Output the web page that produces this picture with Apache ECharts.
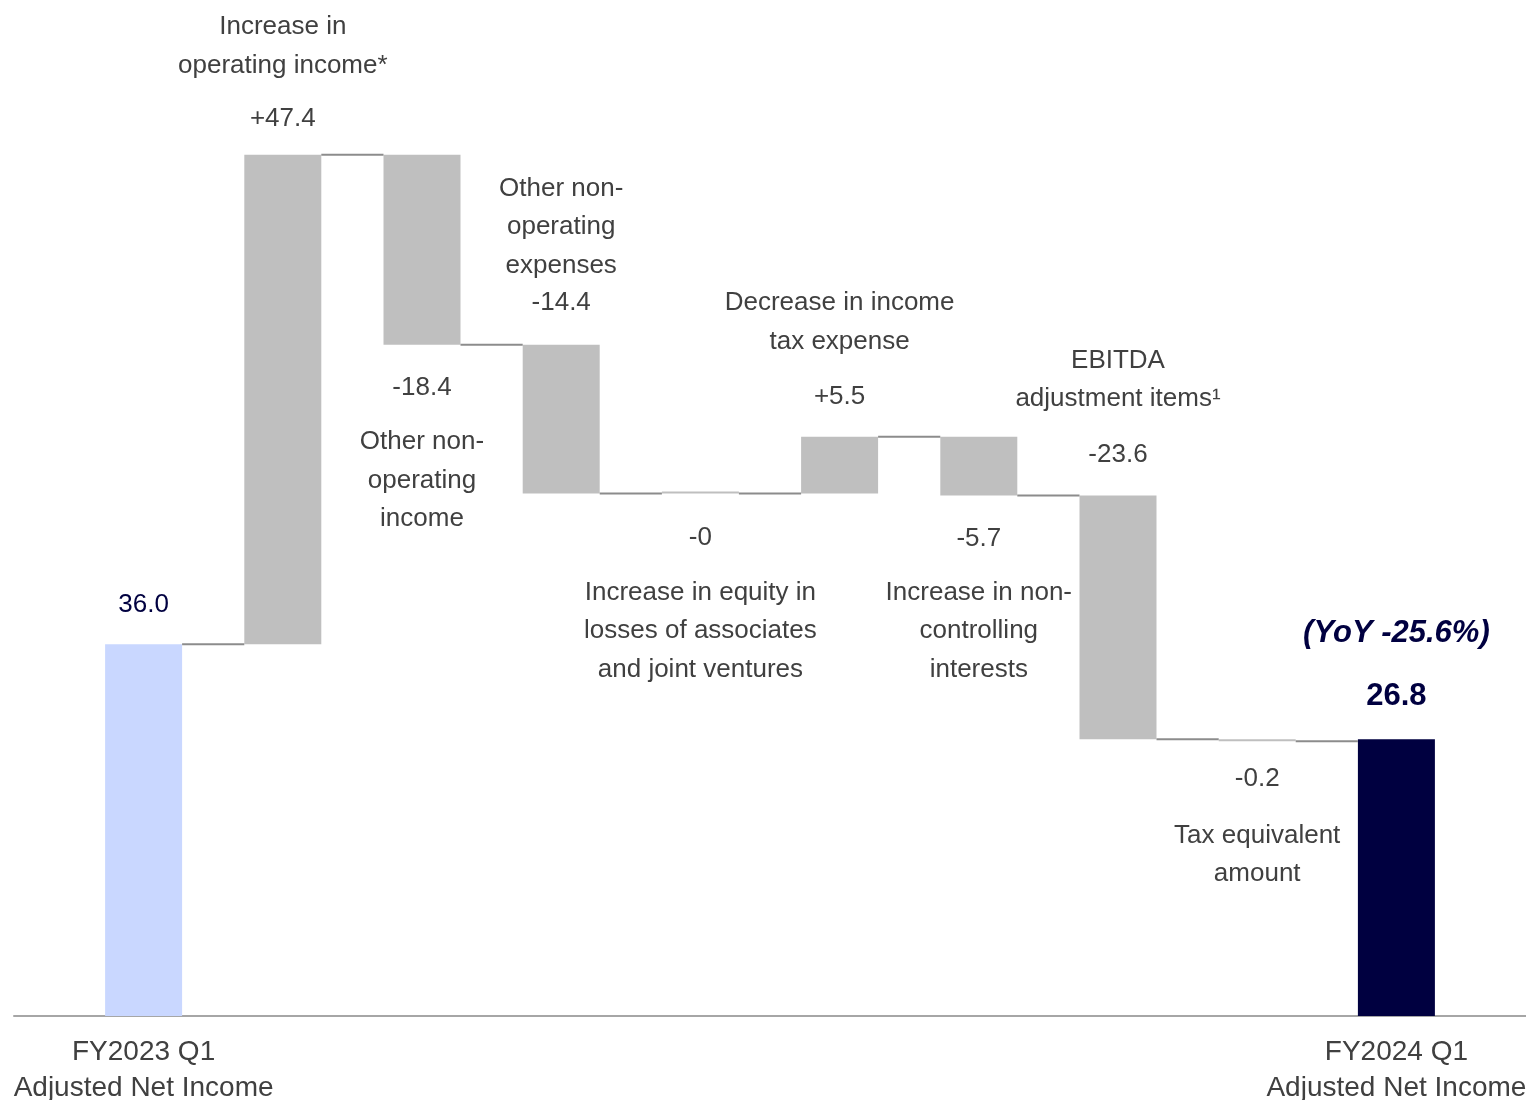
<!DOCTYPE html>
<html>
<head>
<meta charset="utf-8">
<title>Adjusted Net Income bridge</title>
<script src="https://cdn.jsdelivr.net/npm/echarts@6/dist/echarts.min.js"></script>
<style>
  html, body { margin: 0; padding: 0; background: #ffffff; }
  #chart { width: 1526px; height: 1100px; }
</style>
</head>
<body>
<div id="chart"></div>
<script>
// ---- data ----
const categories = [
  'FY2023 Q1\nAdjusted Net Income',
  'Increase in\noperating income*',
  'Other non-\noperating\nincome',
  'Other non-\noperating\nexpenses',
  'Increase in equity in\nlosses of associates\nand joint ventures',
  'Decrease in income\ntax expense',
  'Increase in non-\ncontrolling\ninterests',
  'EBITDA\nadjustment items\u00B9',
  'Tax equivalent\namount',
  'FY2024 Q1\nAdjusted Net Income'
];
const startTotal = 36.0;
const changes = [47.4, -18.4, -14.4, -0, 5.5, -5.7, -23.6, -0.2];
const endTotal = 26.8;
const yoyText = '(YoY -25.6%)';

// ---- styling ----
const FONT = '"Liberation Sans", Arial, Helvetica, sans-serif';
const TEXT = '#404040';
const NAVY = '#000040';
const GREY_BAR = '#BFBFBF';
const START_BAR = '#C9D7FF';
const CONNECTOR = '#8C8C8C';
const BAR_W = 77;

// where each step's caption sits relative to its bar
// (dist: gap to the bar, gap: space between value and caption, vlh: value line height)
const captionLayout = [
  null,
  { pos: 'top',    dist: 16, gap: 14, vlh: 40 },
  { pos: 'bottom', dist: 23, gap: 15, vlh: 40 },
  { pos: 'top',    dist: 24, gap: 0,  vlh: 36 },
  { pos: 'bottom', dist: 24, gap: 16, vlh: 40 },
  { pos: 'top',    dist: 20, gap: 16, vlh: 40 },
  { pos: 'bottom', dist: 23, gap: 15, vlh: 40 },
  { pos: 'top',    dist: 21, gap: 16, vlh: 40 },
  { pos: 'bottom', dist: 18, gap: 17, vlh: 40 }
];

function fmtChange(v) {
  if (v === 0) return Object.is(v, -0) ? '-0' : '+0';
  return (v > 0 ? '+' : '') + v.toFixed(1);
}

// ---- waterfall geometry from the values ----
const baseData = [0];
const barData = [];
const levels = [startTotal];
let running = startTotal;

barData.push({
  value: startTotal,
  itemStyle: { color: START_BAR },
  label: {
    show: true, position: 'top', distance: 19,
    formatter: startTotal.toFixed(1),
    color: NAVY, fontSize: 26, lineHeight: 40, fontFamily: FONT
  }
});

changes.forEach(function (v, k) {
  const i = k + 1;
  const next = +(running + v).toFixed(4);
  baseData.push(Math.min(running, next));
  const lay = captionLayout[i];
  const descLines = categories[i].split('\n').map(function (s) { return '{d|' + s + '}'; });
  const valueLine = '{v|' + fmtChange(v) + '}';
  let lines;
  if (lay.pos === 'top') {
    lines = descLines.concat(lay.gap > 0 ? ['{s| }'] : []).concat([valueLine]);
  } else {
    lines = [valueLine].concat(lay.gap > 0 ? ['{s| }'] : []).concat(descLines);
  }
  barData.push({
    value: Math.abs(v),
    itemStyle: { color: GREY_BAR },
    label: {
      show: true,
      position: lay.pos,
      distance: lay.dist,
      formatter: lines.join('\n'),
      align: 'center',
      rich: {
        d: { fontSize: 26, lineHeight: 38.5, color: TEXT, fontFamily: FONT, align: 'center' },
        v: { fontSize: 26, lineHeight: lay.vlh, color: TEXT, fontFamily: FONT, align: 'center' },
        s: { fontSize: 4, lineHeight: lay.gap, color: TEXT }
      }
    }
  });
  running = next;
  levels.push(running);
});

baseData.push(0);
barData.push({
  value: endTotal,
  itemStyle: { color: NAVY },
  label: {
    show: true, position: 'top', distance: 21,
    formatter: '{y|' + yoyText + '}\n{s| }\n{t|' + endTotal.toFixed(1) + '}',
    align: 'center',
    rich: {
      y: { fontSize: 31, lineHeight: 44, fontWeight: 'bold', fontStyle: 'italic', color: NAVY, fontFamily: FONT, align: 'center' },
      s: { fontSize: 4, lineHeight: 19 },
      t: { fontSize: 31, lineHeight: 44, fontWeight: 'bold', color: NAVY, fontFamily: FONT, align: 'center' }
    }
  }
});

// connector lines: one per step, at the running total after that step
const connectorData = levels.map(function (lvl, i) { return [i, lvl]; });

const chart = echarts.init(document.getElementById('chart'), null, { renderer: 'canvas' });
chart.setOption({
  animation: false,
  backgroundColor: '#ffffff',
  grid: [
    { left: 74, right: 60, top: 4, bottom: 84, containLabel: false, outerBoundsMode: 'none' },
    { left: 14, right: 0, top: 4, bottom: 84, containLabel: false, outerBoundsMode: 'none' }
  ],
  xAxis: [
    {
      type: 'category', gridIndex: 0, data: categories,
      axisLine: { show: false }, axisTick: { show: false },
      axisLabel: {
        interval: 0, margin: 18, hideOverlap: false,
        color: TEXT, fontSize: 28, lineHeight: 36, fontFamily: FONT,
        formatter: function (val, idx) {
          return (idx === 0 || idx === categories.length - 1) ? val : '';
        }
      }
    },
    {
      type: 'value', gridIndex: 1, min: 0, max: 1,
      axisLine: { show: true, onZero: false, lineStyle: { color: '#A6A6A6', width: 2 } },
      axisTick: { show: false }, axisLabel: { show: false }, splitLine: { show: false }
    }
  ],
  yAxis: [
    { type: 'value', gridIndex: 0, min: 0, max: 98, show: false, splitLine: { show: false } },
    { type: 'value', gridIndex: 1, min: 0, max: 1, show: false, splitLine: { show: false } }
  ],
  series: [
    {
      name: 'base', type: 'bar', stack: 'bridge', barWidth: BAR_W,
      data: baseData,
      itemStyle: { color: 'rgba(0,0,0,0)' },
      emphasis: { disabled: true }, silent: true, z: 1
    },
    {
      name: 'change', type: 'bar', stack: 'bridge', barWidth: BAR_W,
      barMinHeight: 2,
      data: barData,
      emphasis: { disabled: true }, z: 2
    },
    {
      name: 'connector', type: 'custom',
      data: connectorData,
      encode: { x: 0, y: 1 },
      silent: true, z: 3,
      renderItem: function (params, api) {
        const i = api.value(0);
        const lvl = api.value(1);
        const a = api.coord([i, lvl]);
        const b = api.coord([i + 1, lvl]);
        const half = BAR_W / 2;
        return {
          type: 'line',
          shape: { x1: a[0] + half, y1: a[1], x2: b[0] - half, y2: b[1] },
          style: { stroke: CONNECTOR, lineWidth: 2 }
        };
      }
    }
  ]
});
</script>
</body>
</html>
